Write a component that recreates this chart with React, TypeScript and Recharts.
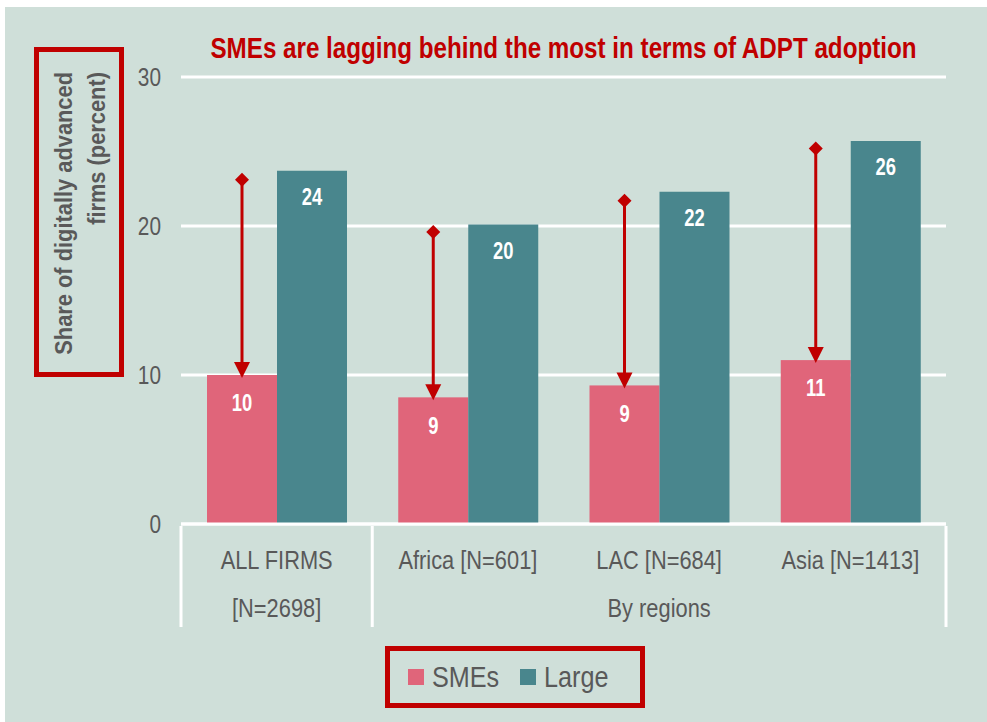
import { BarChart, Bar, XAxis, YAxis, CartesianGrid, Legend, LabelList } from "recharts";

const categories = ["ALL FIRMS", "Africa [N=601]", "LAC [N=684]", "Asia [N=1413]"];
const subLabels = ["[N=2698]", "", "By regions", ""];
const smeValues = [10.0, 8.5, 9.3, 11.0];
const largeValues = [23.7, 20.1, 22.3, 25.7];
const gapTops = [23.1, 19.6, 21.7, 25.2];
const yTicks = [0, 10, 20, 30];

const data = categories.map((name, i) => ({
  name,
  sub: subLabels[i],
  sme: smeValues[i],
  large: largeValues[i],
  top: gapTops[i],
}));

const W = 982;
const H = 715;
const margin = { top: 70, right: 41, left: 96, bottom: 14 };
const Y_W = 80;
const PLOT_W = W - margin.left - margin.right - Y_W;

// no narrow font installed, so Liberation Sans squeezed horizontally
const FONT = '"Liberation Sans", Arial, sans-serif';
const RED = "#c00000";
const GREY = "#595959";
const PINK = "#e0657a";
const TEAL = "#49868d";
const BG = "#cfdfd9";

function Narrow(props: any) {
  const { x, y, size, bold, fill = GREY, anchor = "middle", rotate = 0, sq = 0.84, children } = props;
  return (
    <text
      transform={`translate(${x},${y}) rotate(${rotate}) scale(${sq},1)`}
      textAnchor={anchor}
      dominantBaseline="central"
      fill={fill}
      fontSize={size}
      fontWeight={bold ? "bold" : "normal"}
      fontFamily={FONT}
    >
      {children}
    </text>
  );
}

function SmeShape(props: any) {
  const { x, y, width, height, fill, payload } = props;
  const cx = x + width / 2;
  const perUnit = height / payload.sme;
  const yTop = y + height - payload.top * perUnit;
  const tip = y + 3;
  return (
    <g>
      <rect x={x} y={y} width={width} height={height} fill={fill} />
      <line x1={cx} y1={yTop} x2={cx} y2={tip - 12} stroke={RED} strokeWidth={3} />
      <polygon points={`${cx},${yTop - 7} ${cx + 7},${yTop} ${cx},${yTop + 7} ${cx - 7},${yTop}`} fill={RED} />
      <polygon points={`${cx - 8},${tip - 16} ${cx + 8},${tip - 16} ${cx},${tip}`} fill={RED} />
    </g>
  );
}

function XTick(props: any) {
  const { x, y, payload, index } = props;
  const band = PLOT_W / categories.length;
  const lines: number[] = [];
  if (index === 0) lines.push(x - band / 2, x + band / 2);
  if (index === categories.length - 1) lines.push(x + band / 2);
  return (
    <g>
      {lines.map((lx, i) => (
        <line key={i} x1={lx} y1={y} x2={lx} y2={y + 101} stroke="#fff" strokeWidth={3} />
      ))}
      <Narrow x={x} y={y + 34} size={26}>{payload.value}</Narrow>
      <Narrow x={x} y={y + 82} size={26}>{data[index]?.sub}</Narrow>
    </g>
  );
}

function YTick(props: any) {
  const { x, y, payload } = props;
  return (
    <Narrow x={x} y={y} size={26} sq={0.8} anchor="end">{payload.value}</Narrow>
  );
}

function BarValue(props: any) {
  const { x, y, width, value, drop } = props;
  return (
    <Narrow x={x + width / 2} y={y + drop} size={23} sq={0.8} bold fill="#fff">
      {Math.round(Number(value))}
    </Narrow>
  );
}

function YLabel() {
  return (
    <g>
      <rect x={31.5} y={42.5} width={85} height={325} fill="none" stroke={RED} strokeWidth={5} />
      <Narrow x={59} y={65} size={24} sq={0.91} bold anchor="end" rotate={-90}>
        Share of digitally advanced
      </Narrow>
      <Narrow x={92} y={65} size={24} sq={0.91} bold anchor="end" rotate={-90}>
        firms (percent)
      </Narrow>
    </g>
  );
}

function LegendBox() {
  const item = (color: string, label: string, w: number) => (
    <div style={{ display: "flex", alignItems: "center" }}>
      <div style={{ width: 16, height: 16, background: color, marginRight: 8 }} />
      <span
        style={{
          display: "inline-block",
          fontSize: 30,
          color: GREY,
          fontFamily: FONT,
          transform: "scaleX(0.84)",
          transformOrigin: "left center",
          width: w,
        }}
      >
        {label}
      </span>
    </div>
  );
  return (
    <div
      style={{
        boxSizing: "border-box",
        width: 260,
        height: 62,
        border: `5px solid ${RED}`,
        display: "flex",
        alignItems: "center",
        paddingLeft: 18,
      }}
    >
      {item(PINK, "SMEs", 88)}
      {item(TEAL, "Large", 70)}
    </div>
  );
}

export default function App() {
  return (
    <div style={{ position: "absolute", left: 5, top: 7, width: W, height: H, background: BG }}>
      <div
        style={{
          position: "absolute",
          left: margin.left + Y_W - 150,
          width: PLOT_W + 300,
          top: 24,
          textAlign: "center",
          whiteSpace: "nowrap",
          color: RED,
          fontFamily: FONT,
          fontWeight: "bold",
          fontSize: 29.5,
          transform: "scaleX(0.82)",
        }}
      >
        SMEs are lagging behind the most in terms of ADPT adoption
      </div>
      <BarChart width={W} height={H} data={data} margin={margin} barGap={0} barSize={70}>
        <CartesianGrid horizontal vertical={false} stroke="#fff" strokeWidth={3} />
        <XAxis
          dataKey="name"
          axisLine={{ stroke: "#fff", strokeWidth: 3 }}
          tickLine={false}
          tickSize={0}
          height={122}
          interval={0}
          tick={<XTick />}
        />
        <YAxis
          width={Y_W}
          domain={[0, 30]}
          ticks={yTicks}
          axisLine={false}
          tickLine={false}
          tickSize={0}
          tickMargin={20}
          tick={<YTick />}
          label={<YLabel />}
        />
        <Legend
          content={<LegendBox />}
          wrapperStyle={{ left: 380, bottom: 14, width: 260, height: 62 }}
        />
        <Bar dataKey="sme" name="SMEs" fill={PINK} isAnimationActive={false} shape={<SmeShape />}>
          <LabelList dataKey="sme" content={<BarValue drop={28} />} />
        </Bar>
        <Bar dataKey="large" name="Large" fill={TEAL} isAnimationActive={false}>
          <LabelList dataKey="large" content={<BarValue drop={26} />} />
        </Bar>
      </BarChart>
    </div>
  );
}
